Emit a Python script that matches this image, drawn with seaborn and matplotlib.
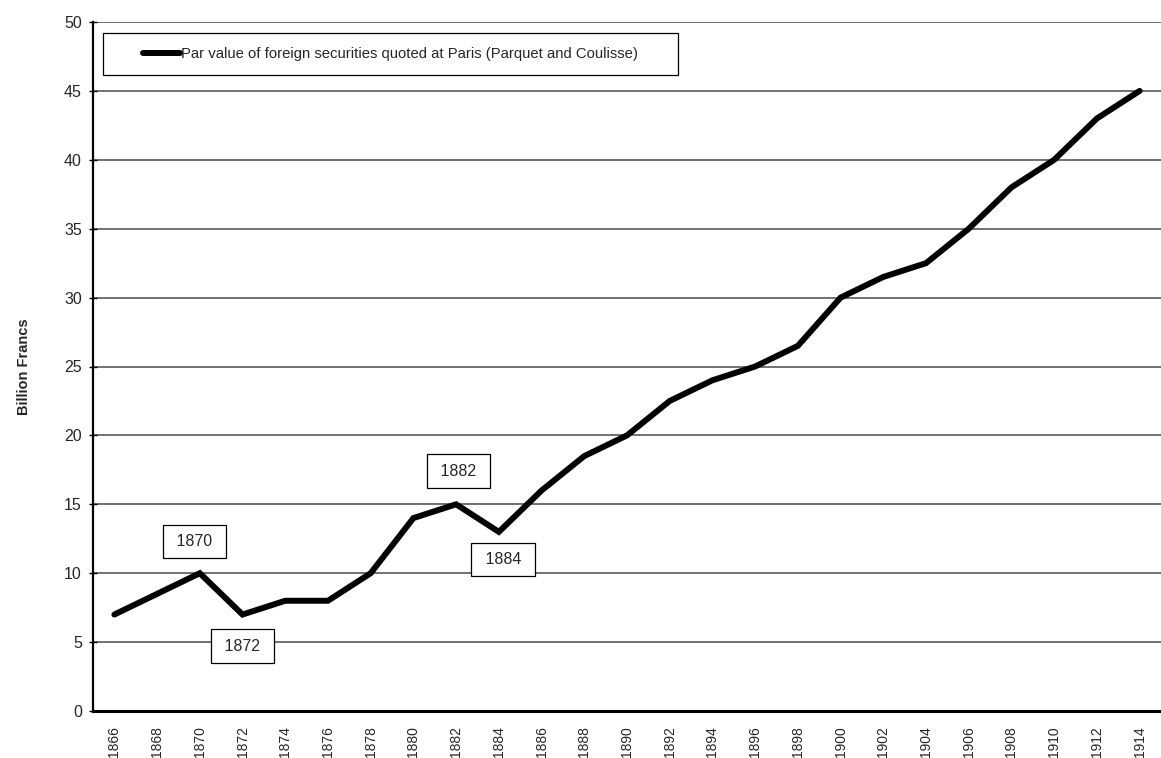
import matplotlib
matplotlib.use("Agg")
import matplotlib.pyplot as plt
import seaborn as sns
import pandas as pd
from matplotlib.lines import Line2D
from matplotlib.patches import Rectangle

years = [1866, 1868, 1870, 1872, 1874, 1876, 1878, 1880, 1882, 1884, 1886, 1888,
         1890, 1892, 1894, 1896, 1898, 1900, 1902, 1904, 1906, 1908, 1910, 1912, 1914]
values = [7, 8.5, 10, 7, 8, 8, 10, 14, 15, 13, 16, 18.5,
          20, 22.5, 24, 25, 26.5, 30, 31.5, 32.5, 35, 38, 40, 43, 45]
series_name = "Par value of foreign securities quoted at Paris (Parquet and Coulisse)"
y_ticks = [0, 5, 10, 15, 20, 25, 30, 35, 40, 45, 50]
notes = ["1870", "1872", "1882", "1884"]
note_x = [1869.75, 1872.0, 1882.1, 1884.2]
note_y = [12.3, 4.7, 17.4, 11.0]

sns.set_style("white")
plt.rcParams['font.family'] = ['Liberation Sans', 'DejaVu Sans']
narrow = ["Liberation Sans Narrow", "Liberation Sans"]

df = pd.DataFrame({"year": years, "value": values, "series": series_name})

W, H = 1161, 758
L, R, T, B = 93, 1161, 22, 711
fig = plt.figure(figsize=(W / 100, H / 100), dpi=100)
ax = fig.add_axes([L / W, 1 - B / H, (R - L) / W, (B - T) / H])

sns.lineplot(data=df, x="year", y="value", hue="series", palette=["black"],
             linewidth=4.3, ax=ax, legend=False)
for ln in ax.lines:
    ln.set_solid_capstyle("round")
    ln.set_solid_joinstyle("miter")

ax.set_xlim(1865, 1915)
ax.set_ylim(0, 50)
ax.set_yticks(y_ticks)
ax.set_xticks(years)
ax.set_xticklabels([str(y) for y in years], rotation=90, fontsize=10)
ax.tick_params(axis="y", labelsize=11.5, length=6, width=1, direction="inout",
               left=True, pad=5, color="black")
ax.tick_params(axis="x", length=0, pad=11)
ax.yaxis.grid(True, color="#4a4a4a", linewidth=1.1)
ax.set_axisbelow(True)

for s in ["top", "right"]:
    ax.spines[s].set_visible(False)
ax.spines["left"].set_color("black")
ax.spines["left"].set_linewidth(1.6)
ax.spines["bottom"].set_color("black")
ax.spines["bottom"].set_linewidth(2.2)

ax.set_xlabel("")
ax.set_ylabel("Billion Francs", fontsize=10.5, fontweight="bold", labelpad=24)

# legend frame (axes coords) and centred legend content
bx0, bx1, by0, by1 = 103, 678, 33, 75
ax.add_patch(Rectangle(((bx0 - L) / (R - L), (B - by1) / (B - T)),
                       (bx1 - bx0) / (R - L), (by1 - by0) / (B - T),
                       transform=ax.transAxes, facecolor="white", edgecolor="black",
                       linewidth=0.9, zorder=4))
h = [Line2D([0], [0], color="black", linewidth=4.3, solid_capstyle="round")]
leg = ax.legend(h, [series_name], loc="center",
                bbox_to_anchor=(((bx0 + bx1) / 2 - L) / (R - L), (B - (by0 + by1) / 2) / (B - T)),
                frameon=False, handlelength=2.45, handletextpad=0.1,
                borderpad=0, borderaxespad=0,
                prop={"family": narrow, "size": 10.7})
leg.set_zorder(5)

for t, x, y in zip(notes, note_x, note_y):
    ax.text(x, y, " " + t + " ", ha="center", va="center", fontsize=11.5,
            family=narrow, zorder=6,
            bbox=dict(boxstyle="square,pad=0.58", facecolor="white",
                      edgecolor="black", linewidth=0.9))

fig.savefig("out.png", dpi=100)
